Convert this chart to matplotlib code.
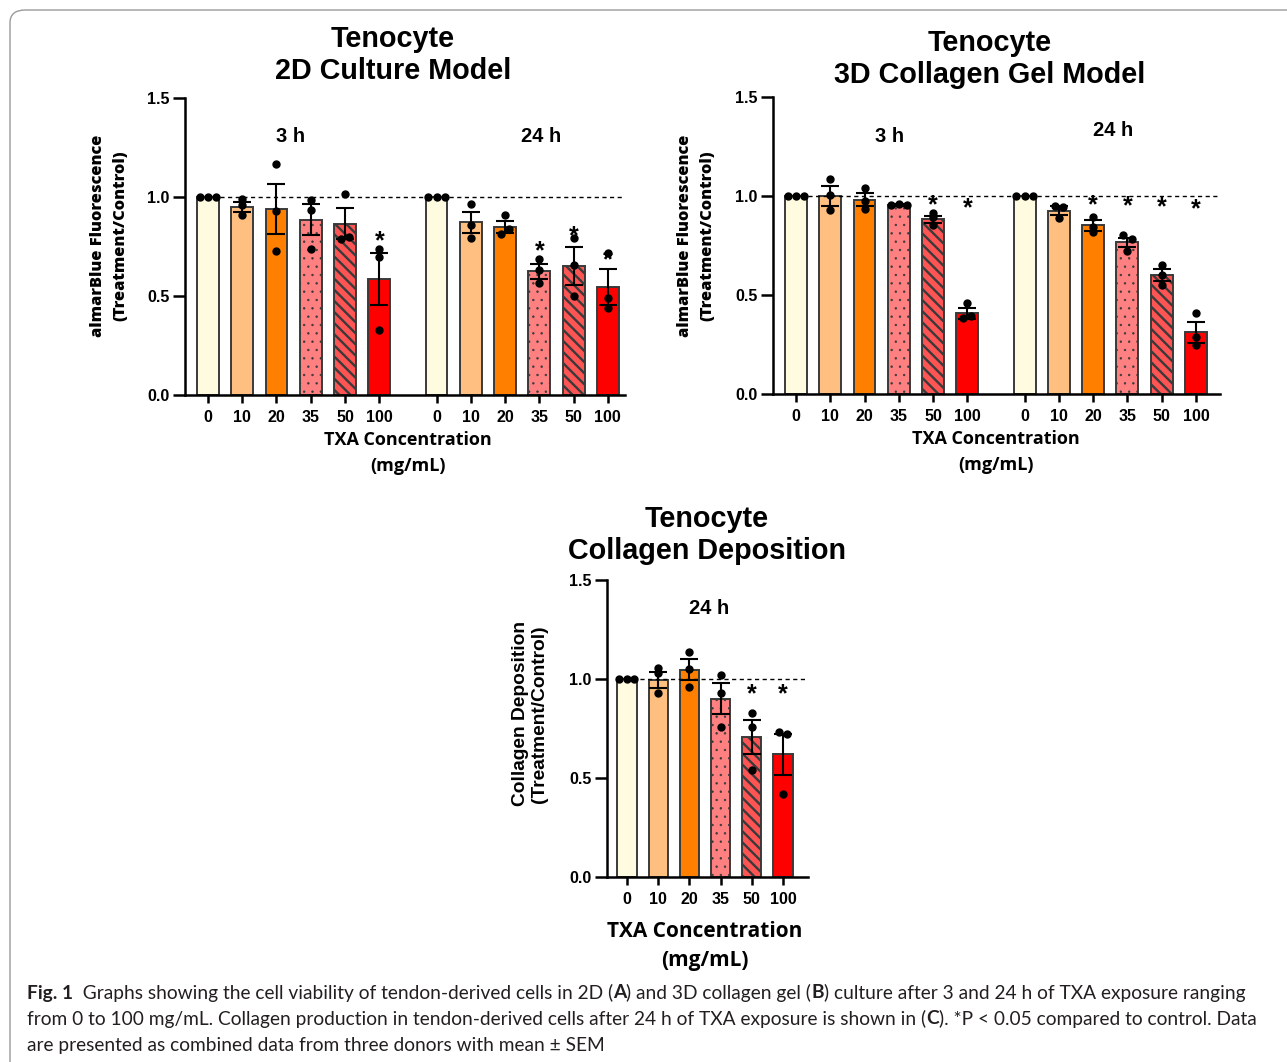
import matplotlib
matplotlib.use("Agg")
import matplotlib.pyplot as plt
import numpy as np
from matplotlib.patches import FancyBboxPatch
from matplotlib import font_manager

# ---------------- data ----------------
conc_labels = ["0", "10", "20", "35", "50", "100"]

# Panel A: 2D culture
a3_mean = [1.0, 0.950, 0.940, 0.886, 0.866, 0.585]
a3_sem = [0.0, 0.025, 0.127, 0.079, 0.077, 0.130]
a3_dots = [[1.0, 1.0, 1.0], [0.990, 0.962, 0.908], [1.166, 0.928, 0.728],
           [0.987, 0.936, 0.738], [1.017, 0.788, 0.797], [0.738, 0.697, 0.328]]
a3_star = [None, None, None, None, None, 0.776]

a24_mean = [1.0, 0.872, 0.849, 0.625, 0.650, 0.545]
a24_sem = [0.0, 0.052, 0.032, 0.037, 0.095, 0.090]
a24_dots = [[1.0, 1.0, 1.0], [0.966, 0.857, 0.795], [0.908, 0.815, 0.837],
            [0.689, 0.632, 0.568], [0.657, 0.499, 0.794], [0.718, 0.489, 0.440]]
a24_star = [None, None, None, 0.726, 0.803, 0.680]

# Panel B: 3D collagen gel
b3_mean = [1.0, 1.0, 0.980, 0.953, 0.882, 0.407]
b3_sem = [0.0, 0.052, 0.033, 0.005, 0.019, 0.027]
b3_dots = [[1.0, 1.0, 1.0], [1.086, 1.005, 0.928], [1.042, 0.975, 0.934],
           [0.955, 0.962, 0.953], [0.916, 0.852, 0.892], [0.383, 0.459, 0.395]]
b3_star = [None, None, None, None, 0.955, 0.938]

b24_mean = [1.0, 0.926, 0.852, 0.766, 0.602, 0.311]
b24_sem = [0.0, 0.024, 0.027, 0.024, 0.030, 0.052]
b24_dots = [[1.0, 1.0, 1.0], [0.950, 0.891, 0.946], [0.892, 0.842, 0.817],
            [0.803, 0.724, 0.782], [0.649, 0.602, 0.551], [0.408, 0.287, 0.249]]
b24_star = [None, None, 0.955, 0.950, 0.943, 0.933]

# Panel C: collagen deposition
c24_mean = [1.0, 0.995, 1.047, 0.900, 0.707, 0.619]
c24_sem = [0.0, 0.042, 0.053, 0.078, 0.088, 0.102]
c24_dots = [[1.0, 1.0, 1.0], [1.054, 1.029, 0.929], [1.138, 1.049, 0.961],
            [1.020, 0.927, 0.759], [0.830, 0.759, 0.538], [0.730, 0.417, 0.720]]
c24_star = [None, None, None, None, 0.924, 0.924]

# ---------------- style ----------------
W, H = 1287, 1062
bar_colors = ["#FFFBE0", "#FFBF80", "#FF8000", "#FF8080", "#FF5454", "#FF0000"]
bar_hatches = [None, None, None, "..", "\\\\\\", None]
hatch_lw = [1.0, 1.0, 1.0, 0.5, 1.7, 1.0]
EDGE = "#3a3a3a"

plt.rcParams["font.family"] = ["Liberation Sans", "DejaVu Sans"]

fig = plt.figure(figsize=(W / 100, H / 100), dpi=100)


def fx(x):
    return x / W


def fy(y):
    return 1 - y / H


def axes_px(left, right, bottom, top):
    return fig.add_axes([fx(left), fy(bottom), (right - left) / W, (bottom - top) / H])


def swarm_offsets(vals, thr=0.023, step=0.24):
    order = np.argsort(vals)
    offs = np.zeros(len(vals))
    clusters = [[order[0]]]
    for k in order[1:]:
        if abs(vals[k] - vals[clusters[-1][-1]]) < thr:
            clusters[-1].append(k)
        else:
            clusters.append([k])
    for cl in clusters:
        n = len(cl)
        for i, k in enumerate(sorted(cl)):
            offs[k] = (i - (n - 1) / 2) * step
    return offs


def draw_group(ax, start, means, sems, dots, stars, width):
    pos = start + np.arange(len(means))
    for i, p in enumerate(pos):
        plt.rcParams["hatch.linewidth"] = hatch_lw[i]
        ax.bar(p, means[i], width=width, color=bar_colors[i], edgecolor=EDGE,
               linewidth=1.4, hatch=bar_hatches[i], zorder=2)
        if sems[i] > 0:
            ax.errorbar(p, means[i], yerr=sems[i], fmt="none", ecolor="black",
                        elinewidth=1.5, capsize=6.5, capthick=1.5, zorder=4)
        offs = swarm_offsets(np.array(dots[i]))
        ax.plot(p + offs, dots[i], "o", color="black", ms=5, zorder=5, clip_on=False)
        if stars[i] is not None:
            ax.text(p, stars[i], "*", ha="center", va="center", fontsize=18,
                    fontweight="bold", zorder=6)
    return pos


def style_axes(ax, xl, xr, positions):
    ax.set_xlim(xl, xr)
    ax.set_ylim(0, 1.5)
    for s in ["top", "right"]:
        ax.spines[s].set_visible(False)
    for s in ["left", "bottom"]:
        ax.spines[s].set_linewidth(1.8)
    ax.set_yticks([0, 0.5, 1.0, 1.5])
    ax.set_yticklabels(["0.0", "0.5", "1.0", "1.5"])
    ax.set_xticks(positions)
    ax.set_xticklabels(conc_labels * (len(positions) // 6))
    ax.tick_params(axis="y", length=9, width=1.8, pad=2, labelsize=11.5)
    ax.tick_params(axis="x", length=6, width=1.8, pad=5, labelsize=11.5)
    for lab in ax.get_xticklabels() + ax.get_yticklabels():
        lab.set_fontweight("bold")


# ---------------- Panel A ----------------
axA = axes_px(185, 625, 395, 98)
g2 = 6.67
pA1 = draw_group(axA, 0, a3_mean, a3_sem, a3_dots, a3_star, 0.64)
pA2 = draw_group(axA, g2, a24_mean, a24_sem, a24_dots, a24_star, 0.64)
style_axes(axA, -0.67, 12.17, list(pA1) + list(pA2))
axA.plot([-0.33, 12.17], [1, 1], ls=(0, (3, 2.5)), color="black", lw=1.0, zorder=3)

# ---------------- Panel B ----------------
axB = axes_px(773, 1220, 394, 97)
pB1 = draw_group(axB, 0, b3_mean, b3_sem, b3_dots, b3_star, 0.64)
pB2 = draw_group(axB, g2, b24_mean, b24_sem, b24_dots, b24_star, 0.64)
style_axes(axB, -0.67, 12.37, list(pB1) + list(pB2))
axB.plot([-0.33, 12.37], [1, 1], ls=(0, (3, 2.5)), color="black", lw=1.0, zorder=3)

# ---------------- Panel C ----------------
axC = axes_px(607, 808, 877, 580)
pC = draw_group(axC, 0, c24_mean, c24_sem, c24_dots, c24_star, 0.62)
style_axes(axC, -0.64, 5.8, list(pC))
axC.plot([-0.31, 5.8], [1, 1], ls=(0, (3, 2.5)), color="black", lw=1.0, zorder=3)

# ---------------- titles & labels ----------------
tkw = dict(ha="center", va="center", fontweight="bold", fontsize=20.7,
           linespacing=1.2, family=["Liberation Sans", "DejaVu Sans"])
fig.text(fx(393), fy(55), "Tenocyte\n2D Culture Model", **tkw)
fig.text(fx(990), fy(59), "Tenocyte\n3D Collagen Gel Model", **tkw)
fig.text(fx(707), fy(535), "Tenocyte\nCollagen Deposition", **tkw)

gkw = dict(ha="center", va="center", fontweight="bold", fontsize=14.5)
fig.text(fx(291), fy(137), "3 h", **gkw)
fig.text(fx(541), fy(137), "24 h", **gkw)
fig.text(fx(890), fy(136), "3 h", **gkw)
fig.text(fx(1113), fy(131), "24 h", **gkw)
fig.text(fx(709), fy(609), "24 h", **gkw)

okw = dict(ha="center", va="center", ma="center",
           family=["Open Sans", "DejaVu Sans"])
fig.text(fx(109), fy(236), "almarBlue Fluorescence\n(Treatment/Control)",
         rotation=90, fontsize=11.8, linespacing=1.5, fontweight=800, **okw)
fig.text(fx(696), fy(236), "almarBlue Fluorescence\n(Treatment/Control)",
         rotation=90, fontsize=11.8, linespacing=1.5, fontweight=800, **okw)
fig.text(fx(408), fy(453), "TXA Concentration\n(mg/mL)", fontsize=13,
         linespacing=1.55, fontweight="bold", **okw)
fig.text(fx(996), fy(452), "TXA Concentration\n(mg/mL)", fontsize=13,
         linespacing=1.55, fontweight="bold", **okw)
fig.text(fx(705), fy(946), "TXA Concentration\n(mg/mL)", fontsize=15,
         linespacing=1.5, fontweight="bold", **okw)
fig.text(fx(530), fy(714), "Collagen Deposition\n(Treatment/Control)",
         rotation=90, ha="center", va="center", fontweight="bold", ma="center",
         fontsize=13.8, linespacing=1.2)

# ---------------- frame ----------------
frame = FancyBboxPatch((fx(10), fy(1100)), fx(1320) - fx(10), fy(10) - fy(1100),
                       boxstyle="round,pad=0,rounding_size=0.012",
                       transform=fig.transFigure, fill=False, edgecolor="#9a9a9a",
                       linewidth=1.0, clip_on=False)
fig.patches.append(frame)

# ---------------- caption ----------------
names = {f.name for f in font_manager.fontManager.ttflist}
cap_family = ["Lato", "DejaVu Sans"] if "Lato" in names else ["Open Sans", "DejaVu Sans"]

lines = [
    [("Fig. 1", "bold"), ("  Graphs showing the cell viability of tendon-derived cells in 2D (", "normal"),
     ("A", "bold"), (") and 3D collagen gel (", "normal"), ("B", "bold"),
     (") culture after 3 and 24 h of TXA exposure ranging", "normal")],
    [("from 0 to 100 mg/mL. Collagen production in tendon-derived cells after 24 h of TXA exposure is shown in (", "normal"),
     ("C", "bold"), ("). *P < 0.05 compared to control. Data", "normal")],
    [("are presented as combined data from three donors with mean ± SEM", "normal")],
]
targets = [1262 - 27, 1258 - 27]
ys = [993, 1019, 1045]
renderer = fig.canvas.get_renderer()


def run_width(text, weight, size):
    t = fig.text(0, 0, text.replace(" ", "\u00a0"), fontsize=size, fontweight=weight,
                 family=cap_family)
    w = t.get_window_extent(renderer).width
    t.remove()
    return w


base = 12
csize = min(base * tg / sum(run_width(s, wt, base) for s, wt in ln)
            for ln, tg in zip(lines[:2], targets))
for line, y in zip(lines, ys):
    x = 27
    for s, wt in line:
        fig.text(fx(x), fy(y), s.replace(" ", "\u00a0"), fontsize=csize, fontweight=wt,
                 family=cap_family, va="center", ha="left", color="#231f20")
        x += run_width(s, wt, csize)

fig.savefig("out.png", dpi=100)
